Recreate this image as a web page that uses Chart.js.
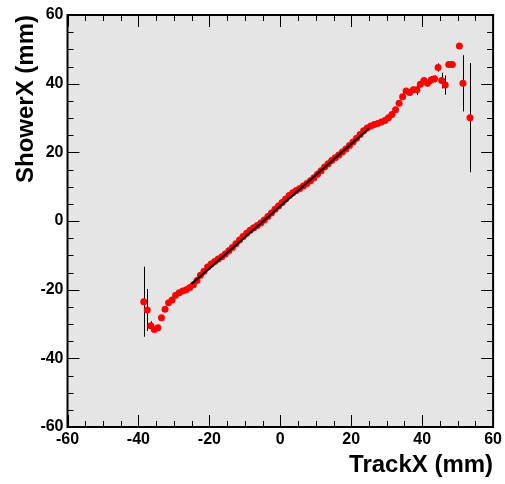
<!DOCTYPE html>
<html>
<head>
<meta charset="utf-8">
<script src="https://cdn.jsdelivr.net/npm/chart.js@4.4.1/dist/chart.umd.min.js"></script>
<style>
  html, body { margin: 0; padding: 0; background: #ffffff; }
</style>
</head>
<body>
<canvas id="chart_showerVsTrack" width="505" height="484"></canvas>
<script>
// profile bins (1 mm wide), bins 49.5 and 52.5 are empty
var trackX = [
  -38.5, -37.5, -36.5, -35.5, -34.5, -33.5, -32.5, -31.5, -30.5, -29.5,
  -28.5, -27.5, -26.5, -25.5, -24.5, -23.5, -22.5, -21.5, -20.5, -19.5,
  -18.5, -17.5, -16.5, -15.5, -14.5, -13.5, -12.5, -11.5, -10.5, -9.5,
  -8.5, -7.5, -6.5, -5.5, -4.5, -3.5, -2.5, -1.5, -0.5, 0.5,
  1.5, 2.5, 3.5, 4.5, 5.5, 6.5, 7.5, 8.5, 9.5, 10.5,
  11.5, 12.5, 13.5, 14.5, 15.5, 16.5, 17.5, 18.5, 19.5, 20.5,
  21.5, 22.5, 23.5, 24.5, 25.5, 26.5, 27.5, 28.5, 29.5, 30.5,
  31.5, 32.5, 33.5, 34.5, 35.5, 36.5, 37.5, 38.5, 39.5, 40.5,
  41.5, 42.5, 43.5, 44.5, 45.5, 46.5, 47.5, 48.5, 50.5, 51.5,
  53.5
];
var showerX = [
  -23.5, -25.9, -30.5, -31.6, -31.1, -28.2, -25.7, -23.8, -23.0, -21.6,
  -20.9, -20.4, -20.0, -19.4, -18.6, -17.3, -15.8, -14.6, -13.4, -12.5,
  -11.8, -11.1, -10.4, -9.6, -8.7, -7.7, -6.6, -5.5, -4.5, -3.6,
  -2.7, -2.0, -1.3, -0.6, 0.3, 1.3, 2.3, 3.4, 4.4, 5.4,
  6.4, 7.4, 8.2, 8.9, 9.5, 10.2, 10.9, 11.7, 12.6, 13.6,
  14.6, 15.7, 16.7, 17.6, 18.4, 19.2, 20.1, 21.0, 22.0, 23.0,
  24.1, 25.2, 26.3, 27.1, 27.7, 28.1, 28.4, 28.8, 29.3, 30.1,
  31.0, 32.4, 34.3, 36.2, 37.9, 37.4, 38.2, 38.2, 39.8, 40.9,
  40.1, 41.1, 41.4, 44.7, 40.9, 39.6, 45.6, 45.6, 51.0, 40.1,
  30.1
];
var showerErr = [
  10.2, 6.1, 1.3, 0.9, 0.8, 0.7, 0.6, 0.5, 0.5, 0.4,
  0.4, 0.4, 0.3, 0.3, 0.3, 0.3, 0.3, 0.3, 0.2, 0.2,
  0.2, 0.2, 0.2, 0.2, 0.2, 0.2, 0.2, 0.2, 0.2, 0.2,
  0.2, 0.2, 0.2, 0.2, 0.2, 0.2, 0.2, 0.2, 0.2, 0.2,
  0.2, 0.2, 0.2, 0.2, 0.2, 0.2, 0.2, 0.2, 0.2, 0.2,
  0.2, 0.2, 0.2, 0.2, 0.2, 0.2, 0.2, 0.3, 0.3, 0.3,
  0.3, 0.3, 0.3, 0.4, 0.4, 0.4, 0.5, 0.5, 0.5, 0.6,
  0.6, 0.7, 0.7, 0.8, 0.8, 0.8, 0.9, 1.5, 0.9, 1.0,
  1.0, 1.1, 1.0, 1.2, 2.3, 2.8, 0.6, 0.6, 0.5, 8.2,
  15.9
];
// pol1 fit drawn over its range
var fitRange = [-25, 25];
var fitSlope = 0.905;
var fitOffset = 4.3;

var axisTicks = [-60, -40, -20, 0, 20, 40, 60];

var FONT = "'Liberation Sans', Arial, Helvetica, sans-serif";

var rootFrame = {
  id: 'rootFrame',
  beforeDraw: function (chart) {
    var ctx = chart.ctx, a = chart.chartArea;
    ctx.save();
    ctx.fillStyle = '#ffffff';
    ctx.fillRect(0, 0, chart.width, chart.height);
    ctx.fillStyle = '#e5e5e5';
    ctx.fillRect(a.left, a.top, a.right - a.left, a.bottom - a.top);
    ctx.restore();
  },
  beforeDatasetsDraw: function (chart) {
    var ctx = chart.ctx, a = chart.chartArea;
    var xs = chart.scales.x, ys = chart.scales.y;
    ctx.save();
    ctx.beginPath();
    ctx.rect(a.left, a.top, a.right - a.left, a.bottom - a.top);
    ctx.clip();
    ctx.strokeStyle = '#000000';
    ctx.lineWidth = 1;
    for (var i = 0; i < trackX.length; i++) {
      var px = Math.round(xs.getPixelForValue(trackX[i])) + 0.5;
      ctx.beginPath();
      ctx.moveTo(px, ys.getPixelForValue(showerX[i] + showerErr[i]));
      ctx.lineTo(px, ys.getPixelForValue(showerX[i] - showerErr[i]));
      ctx.stroke();
    }
    ctx.restore();
  },
  afterDraw: function (chart) {
    var ctx = chart.ctx, a = chart.chartArea;
    var xs = chart.scales.x, ys = chart.scales.y;
    ctx.save();
    ctx.strokeStyle = '#000000';
    ctx.lineWidth = 1;
    ctx.beginPath();
    for (var v = -60; v <= 60; v += 5) {
      var len = (v % 20 === 0) ? 12 : 6;
      var px = Math.round(xs.getPixelForValue(v)) + 0.5;
      ctx.moveTo(px, a.bottom); ctx.lineTo(px, a.bottom - len);
      ctx.moveTo(px, a.top); ctx.lineTo(px, a.top + len);
      var py = Math.round(ys.getPixelForValue(v)) + 0.5;
      ctx.moveTo(a.left, py); ctx.lineTo(a.left + len, py);
      ctx.moveTo(a.right, py); ctx.lineTo(a.right - len, py);
    }
    ctx.stroke();
    ctx.lineWidth = 2;
    ctx.strokeRect(a.left, a.top, a.right - a.left, a.bottom - a.top);
    ctx.restore();
  }
};

var chart_showerVsTrack = new Chart(document.getElementById('chart_showerVsTrack'), {
  type: 'scatter',
  data: {
    datasets: [
      {
        type: 'line',
        label: 'fit',
        data: fitRange.map(function (x) { return {x: x, y: fitSlope * x + fitOffset}; }),
        borderColor: '#000000',
        borderWidth: 2,
        pointRadius: 0,
        fill: false
      },
      {
        label: 'profile',
        data: trackX.map(function (x, i) { return {x: x, y: showerX[i]}; }),
        backgroundColor: '#ff0000',
        borderWidth: 0,
        pointRadius: 3.5
      }
    ]
  },
  options: {
    responsive: false,
    devicePixelRatio: 1,
    animation: false,
    layout: { padding: { top: 15, right: 11.5, left: 0, bottom: 0 } },
    plugins: {
      legend: { display: false },
      tooltip: { enabled: false }
    },
    scales: {
      x: {
        type: 'linear',
        position: 'bottom',
        min: -60,
        max: 60,
        afterBuildTicks: function (s) { s.ticks = axisTicks.map(function (v) { return {value: v}; }); },
        afterFit: function (s) { s.height = 57; },
        ticks: {
          color: '#000000',
          padding: 3,
          maxRotation: 0,
          autoSkip: false,
          font: { family: FONT, size: 16, weight: 'bold' }
        },
        grid: { display: false, drawTicks: false },
        border: { display: false },
        title: {
          display: true,
          text: 'TrackX (mm)',
          align: 'end',
          color: '#000000',
          padding: { top: 0, bottom: 4.5 },
          font: { family: FONT, size: 24, weight: 'bold' }
        }
      },
      y: {
        type: 'linear',
        position: 'left',
        min: -60,
        max: 60,
        afterBuildTicks: function (s) { s.ticks = axisTicks.map(function (v) { return {value: v}; }); },
        afterFit: function (s) { s.width = 67.5; },
        ticks: {
          color: '#000000',
          padding: 4,
          autoSkip: false,
          font: { family: FONT, size: 16, weight: 'bold' }
        },
        grid: { display: false, drawTicks: false },
        border: { display: false },
        title: {
          display: true,
          text: 'ShowerX (mm)',
          align: 'end',
          color: '#000000',
          padding: { top: 12, bottom: 0 },
          font: { family: FONT, size: 24, weight: 'bold' }
        }
      }
    }
  },
  plugins: [rootFrame]
});
</script>
</body>
</html>
